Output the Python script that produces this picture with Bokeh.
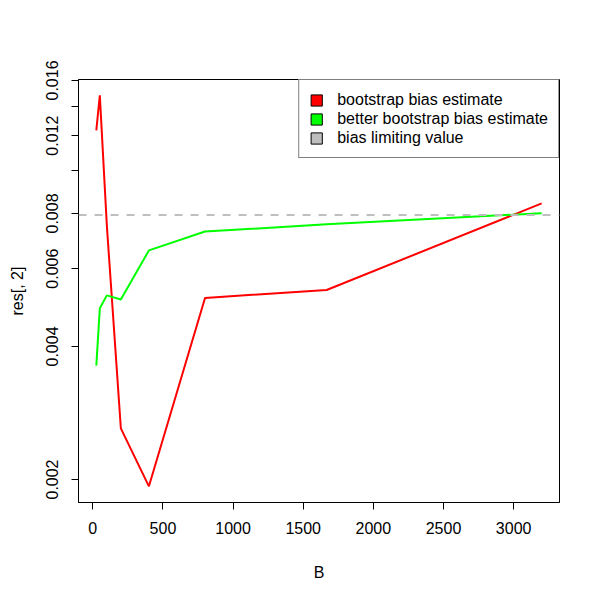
from bokeh.plotting import figure
from bokeh.models import (Range1d, FixedTicker, PrintfTickFormatter, Span, Legend,
                          LegendItem)
from bokeh.embed import file_html
from bokeh.resources import INLINE

# ---- data ----
B = [25, 50, 100, 200, 400, 800, 1667, 3200]
boot_bias = [0.01233, 0.0148, 0.00752, 0.00261, 0.00193, 0.00515, 0.00537, 0.00843]
better_bias = [0.00362, 0.00488, 0.00522, 0.00511, 0.00660, 0.00728, 0.00756, 0.00801]
limit_value = 0.00794
x_ticks = [0, 500, 1000, 1500, 2000, 2500, 3000]
y_ticks = [0.002, 0.004, 0.006, 0.008, 0.010, 0.012, 0.014, 0.016]
y_hidden = [0.010, 0.014]
legend_labels = ["bootstrap bias estimate", "better bootstrap bias estimate", "bias limiting value"]
legend_colors = ["#FF0000", "#00FF00", "#BEBEBE"]

FONT = "Liberation Sans"
NAN = float("nan")

p = figure(width=592, height=592, output_backend="svg", toolbar_location=None,
           y_axis_type="log",
           x_range=Range1d(-102, 3327), y_range=Range1d(0.001774, 0.01608),
           min_border_left=78, min_border_right=33, min_border_top=79, min_border_bottom=90)
p.background_fill_color = "white"
p.border_fill_color = "white"
p.outline_line_color = "black"
p.outline_line_width = 1
p.grid.visible = False

p.line(B, boot_bias, line_color=legend_colors[0], line_width=2)
p.line(B, better_bias, line_color=legend_colors[1], line_width=2)
p.add_layout(Span(location=limit_value, dimension="width", line_color=legend_colors[2],
                  line_width=2, line_dash="8 8"))

# axes
p.xaxis.ticker = FixedTicker(ticks=x_ticks)
p.yaxis.ticker = FixedTicker(ticks=y_ticks)
p.yaxis.formatter = PrintfTickFormatter(format="%.3f")
p.yaxis.major_label_overrides = {v: "" for v in y_hidden}
p.yaxis.major_label_orientation = "vertical"
for ax in (p.xaxis[0], p.yaxis[0]):
    ax.major_tick_out = 7
    ax.major_tick_in = 0
    ax.minor_tick_out = 0
    ax.minor_tick_in = 0
    ax.axis_line_color = "black"
    ax.major_tick_line_color = "black"
    ax.major_label_text_font = FONT
    ax.major_label_text_font_size = "16px"
    ax.major_label_text_color = "black"
    ax.axis_label_text_font = FONT
    ax.axis_label_text_font_size = "16px"
    ax.axis_label_text_font_style = "normal"
    ax.axis_label_text_color = "black"
p.xaxis.axis_label = "B"
p.yaxis.axis_label = "res[, 2]"
p.xaxis.major_label_standoff = 12
p.xaxis.axis_label_standoff = 27
p.yaxis.major_label_standoff = 13
p.yaxis.axis_label_standoff = 18

# legend with filled boxes (proxy renderers with no visible geometry)
items = []
for lab, col in zip(legend_labels, legend_colors):
    r = p.quad(left=[NAN], right=[NAN], top=[NAN], bottom=[NAN], fill_color=col,
               line_color="black", line_width=1)
    items.append(LegendItem(label=lab, renderers=[r]))
leg = Legend(items=items, location="top_right", margin=0, padding=10, spacing=0,
             glyph_width=14, glyph_height=14, label_standoff=14, label_height=19,
             label_text_font=FONT, label_text_font_size="16px", label_text_color="black",
             border_line_color="black", border_line_width=1,
             background_fill_color="white", background_fill_alpha=1.0)
p.add_layout(leg)

open("out.html", "w").write(file_html(p, INLINE))
